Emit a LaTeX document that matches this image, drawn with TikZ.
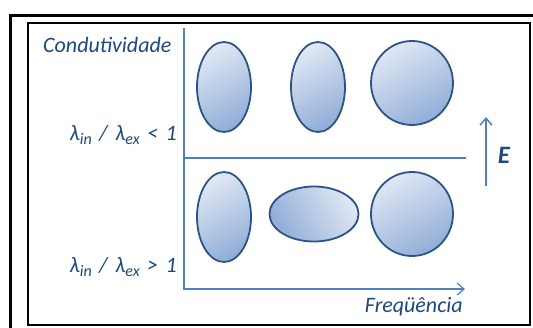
\documentclass[tikz,border=0pt]{standalone}
\usepackage{fontspec}
\setmainfont{Carlito}
\usetikzlibrary{arrows.meta, shapes.geometric}
\definecolor{textblue}{RGB}{31, 73, 125}
\definecolor{axisblue}{RGB}{79, 129, 189}
\definecolor{rimblue}{RGB}{44, 84, 134}
\definecolor{celllight}{RGB}{224, 231, 244}
\definecolor{celldark}{RGB}{145, 174, 216}
\newcommand{\lsub}[1]{\raisebox{-0.45ex}{\fontsize{16}{17}\selectfont #1}}
\newcommand{\gap}{\hspace{7.5pt}}

\tikzset{
  lbl/.style={font=\fontsize{22}{24}\selectfont\itshape, text=textblue, inner sep=0pt},
  axisline/.style={axisblue, line width=1.2pt},
  cell/.style={ellipse, draw=rimblue, line width=1.8pt, inner sep=0pt,
               top color=celllight, bottom color=celldark, shading angle=#1},
  cell/.default=30
}

\begin{document}
\begin{tikzpicture}[x=1pt, y=-1pt]
  \useasboundingbox (0,0) rectangle (533,327);
  \fill[white] (0,0) rectangle (533,327);

  %--- frames ---
  \draw[line width=3pt] (10,15) rectangle (545,345);
  \draw[line width=2pt] (28,23) rectangle (530,325);

  %--- axes ---
  \coordinate (top) at (184,28);
  \coordinate (orig) at (184,289);
  \coordinate (fend) at (465,289);
  \coordinate (mid) at (184,158);
  \coordinate (midend) at (466,158);
  \draw[axisline, -{Straight Barb[length=7pt, width=12pt]}] (top) -- (orig) -- (fend);
  \draw[axisline] (mid) -- (midend);

  %--- field ---
  \coordinate (ebot) at (486,186);
  \coordinate (etop) at (486,117);
  \draw[axisline, line width=1.5pt, -{Straight Barb[length=7pt, width=12pt]}] (ebot) -- (etop);
  \node[font=\fontsize{25}{27}\selectfont\bfseries\itshape, text=textblue] (E) at (504,155) {E};

  %--- labels ---
  \node[lbl, anchor=west] (cond) at (43,45) {Condutividade};
  \node[lbl, anchor=east] (low) at (177,135) {λ\lsub{in}\gap/\gap λ\lsub{ex}\gap<\gap1};
  \node[lbl, anchor=east] (high) at (177,267) {λ\lsub{in}\gap/\gap λ\lsub{ex}\gap>\gap1};
  \node[lbl, anchor=east] (freq) at (463,307) {Freqüência};

  %--- cells, top row ---
  \node[cell, minimum width=54pt, minimum height=90pt] (a1) at (224,87) {};
  \node[cell, minimum width=54pt, minimum height=90pt] (a2) at (318,87) {};
  \node[cell, minimum width=82pt, minimum height=84pt] (a3) at (412,83) {};

  %--- cells, bottom row ---
  \node[cell, minimum width=54pt, minimum height=90pt] (b1) at (224,217) {};
  \node[cell=-60, minimum width=89pt, minimum height=55pt] (b2) at (314,214) {};
  \node[cell, minimum width=82pt, minimum height=84pt] (b3) at (412,214) {};
\end{tikzpicture}
\end{document}
